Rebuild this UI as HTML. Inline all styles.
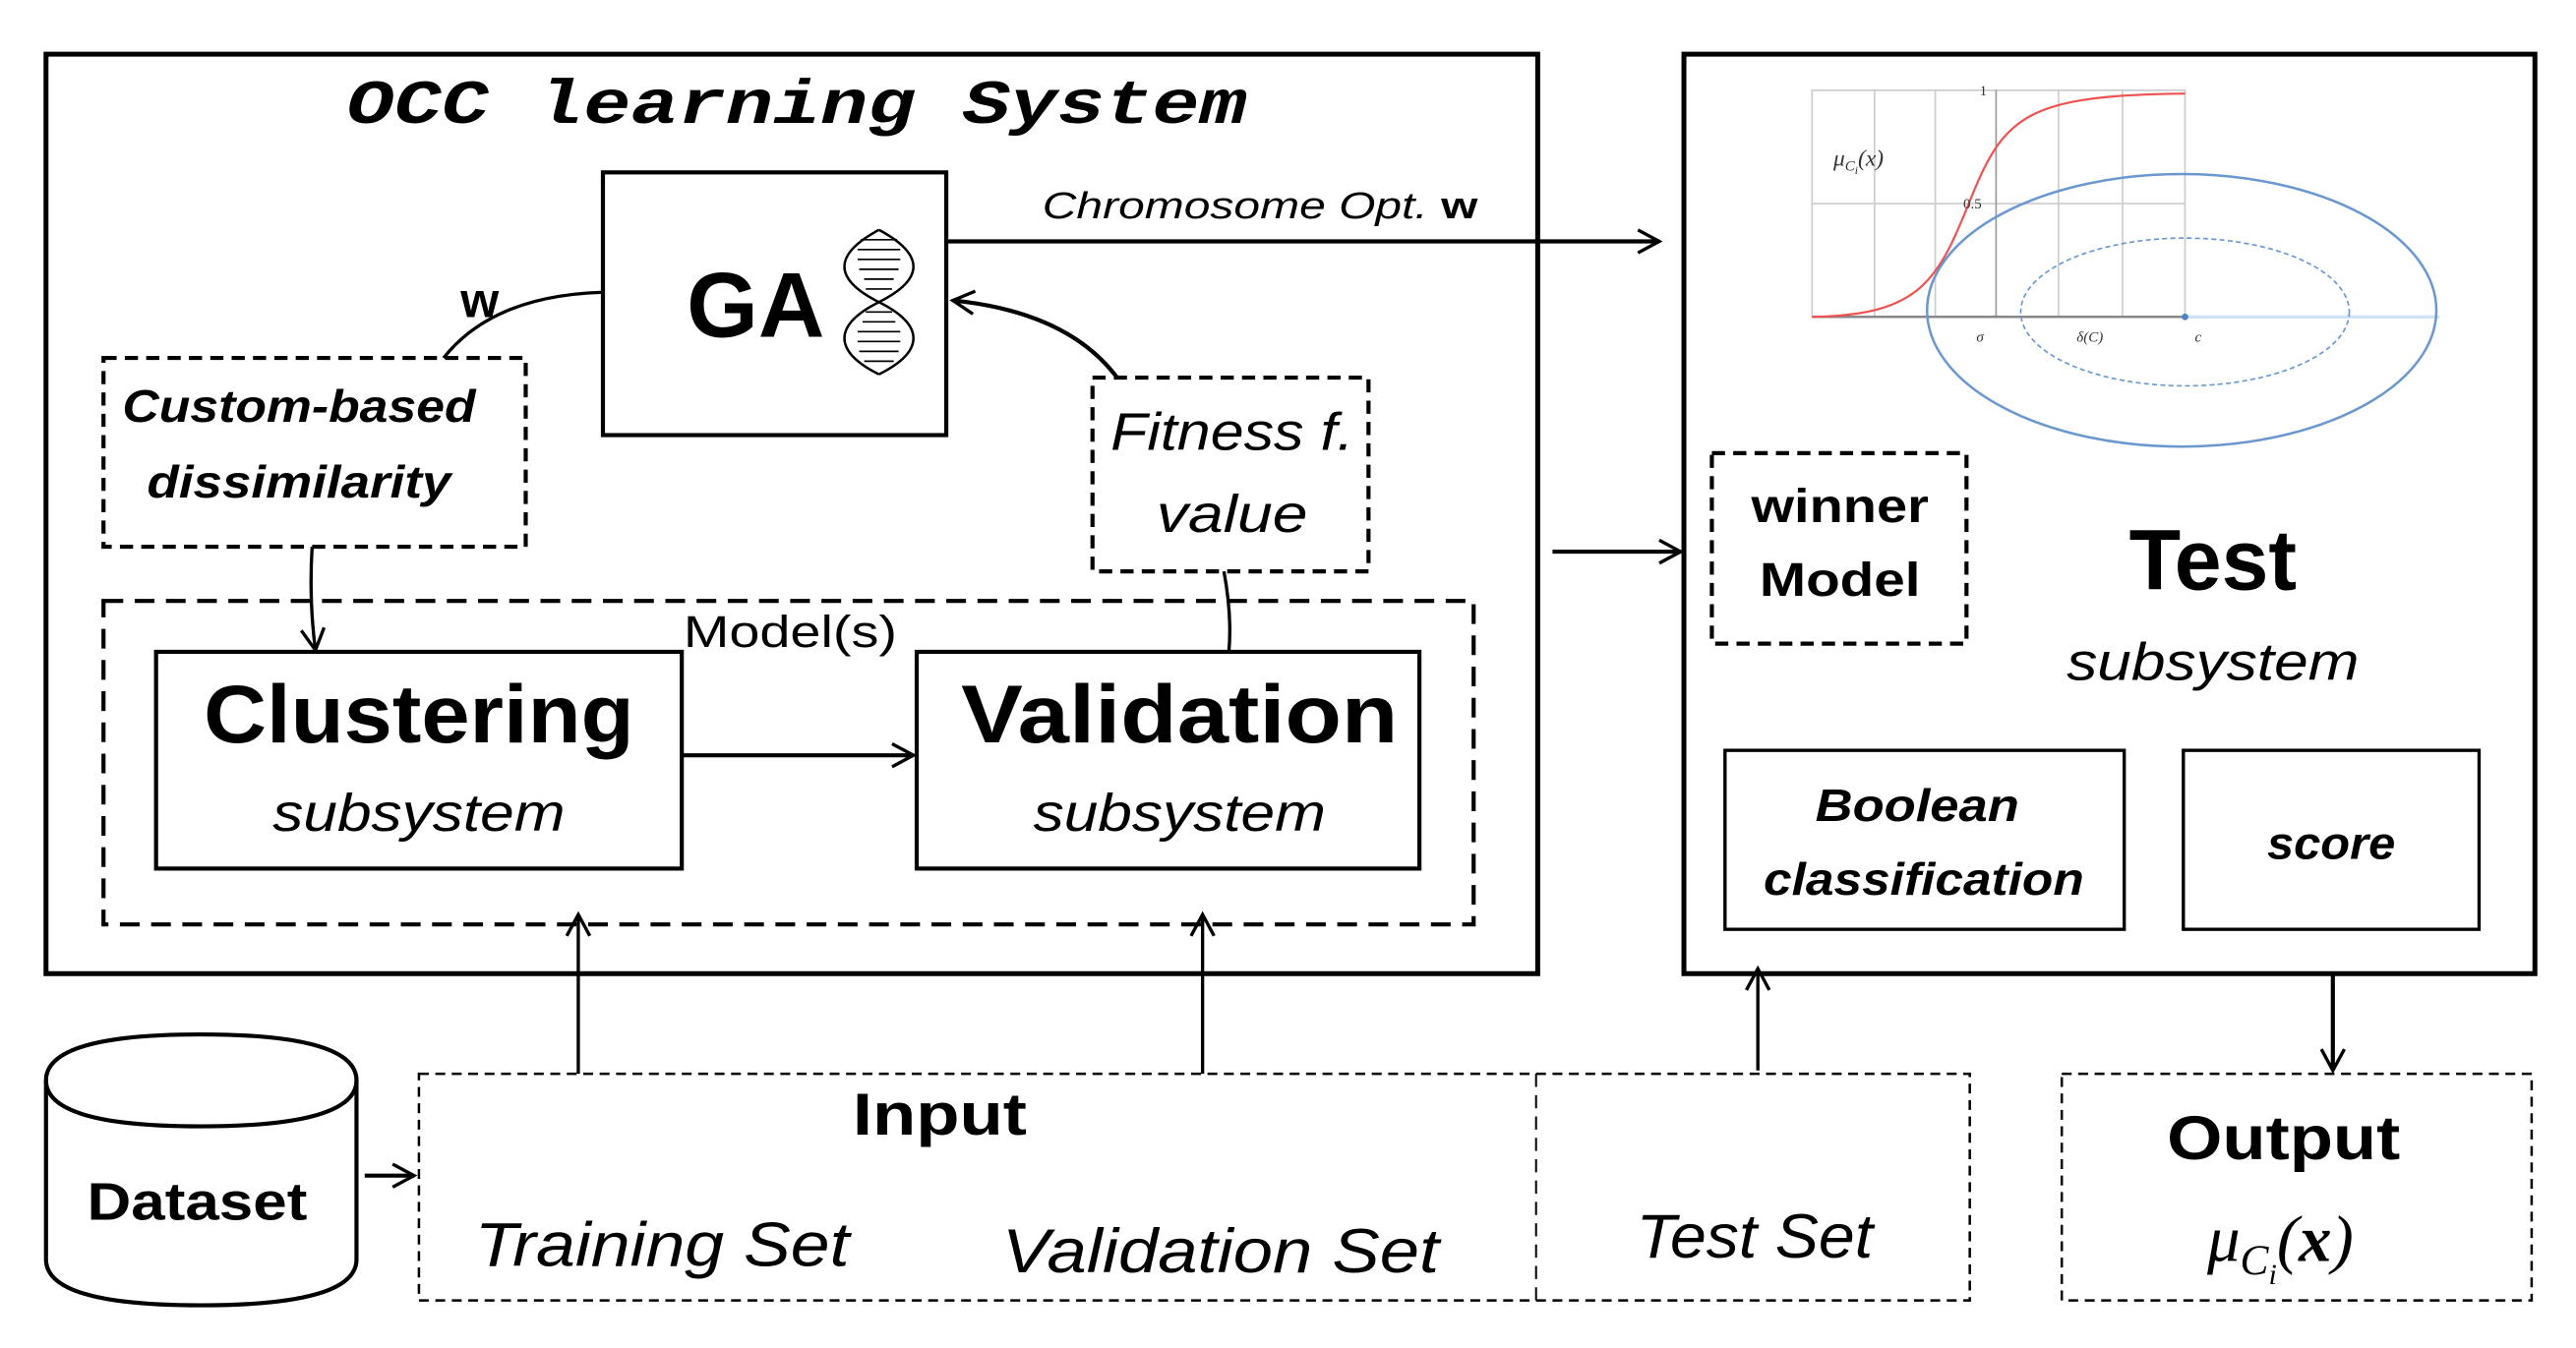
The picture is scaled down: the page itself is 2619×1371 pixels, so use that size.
<!DOCTYPE html>
<html><head><meta charset="utf-8"><style>html,body{margin:0;padding:0;background:#fff}svg{display:block}</style></head>
<body>
<svg width="2619" height="1371" viewBox="0 0 1568 821" preserveAspectRatio="none" xmlns="http://www.w3.org/2000/svg" font-family="Liberation Sans, sans-serif">
<defs>
<marker id="a" markerWidth="20" markerHeight="20" refX="14" refY="8" orient="auto" markerUnits="userSpaceOnUse"><path d="M1,1 L14,8 L1,15" fill="none" stroke="#000" stroke-width="2"/></marker>
</defs>
<g fill="none" stroke="#000">
<rect x="28" y="33" width="908" height="560" stroke-width="3"/>
<rect x="1025" y="33" width="518" height="560" stroke-width="3"/>
<rect x="367" y="105" width="209" height="160" stroke-width="2.5"/>
<rect x="63" y="218" width="257" height="115" stroke-width="2.5" stroke-dasharray="8,5"/>
<rect x="665" y="230" width="168" height="118" stroke-width="2.5" stroke-dasharray="8,5"/>
<rect x="63" y="366" width="834" height="197" stroke-width="2.5" stroke-dasharray="12,7"/>
<rect x="95" y="397" width="320" height="132" stroke-width="2.5"/>
<rect x="558" y="397" width="306" height="132" stroke-width="2.5"/>
<rect x="1042" y="276" width="155" height="116" stroke-width="2.5" stroke-dasharray="8,5"/>
<rect x="1050" y="457" width="243" height="109" stroke-width="2"/>
<rect x="1329" y="457" width="180" height="109" stroke-width="2"/>
<rect x="255" y="654" width="944" height="138" stroke-width="1.5" stroke-dasharray="6,4"/>
<line x1="935" y1="654" x2="935" y2="792" stroke-width="1.2" stroke-dasharray="8,5"/>
<rect x="1255" y="654" width="286" height="138" stroke-width="1.5" stroke-dasharray="6,4"/>
<path d="M28,658 Q28,630 122,630 Q217,630 217,658 L217,767 Q217,795 122,795 Q28,795 28,767 Z" stroke-width="2.5"/>
<path d="M28,658 Q28,686 122,686 Q217,686 217,658" stroke-width="2.5"/>
<g stroke-width="2.5">
<line x1="576" y1="147" x2="1010" y2="147" marker-end="url(#a)"/>
<line x1="945" y1="336" x2="1023" y2="336" marker-end="url(#a)"/>
<line x1="415" y1="460" x2="556" y2="460" marker-end="url(#a)"/>
<line x1="222" y1="716" x2="252" y2="716" marker-end="url(#a)"/>
<line x1="1420" y1="593" x2="1420" y2="652" marker-end="url(#a)"/>
<path d="M680,230 Q650,190 580,183" marker-end="url(#a)"/>
</g>
<g stroke-width="2">
<line x1="352" y1="654" x2="352" y2="557" marker-end="url(#a)"/>
<line x1="732" y1="654" x2="732" y2="557" marker-end="url(#a)"/>
<line x1="1070" y1="652" x2="1070" y2="590" marker-end="url(#a)"/>
<path d="M190,333 Q188,365 192,396" marker-end="url(#a)"/>
<path d="M367,178 Q300,180 270,218"/>
<path d="M745,348 Q750,375 748,397"/>
</g>
<!-- DNA -->
<g stroke-width="1.5">
<path d="M522,140 C550,155 550,170 522,184 C494,198 494,214 522,228" transform="translate(13,0)"/>
<path d="M548,140 C520,155 520,170 548,184 C576,198 576,214 548,228" transform="translate(-13,0)"/>
<path d="M524,146h22M522,152h26M522,158h26M523,164h24M526,170h18M525,196h20M522,202h26M522,208h26M523,214h24M526,220h18M527,176h16M527,190h16" stroke-width="1"/>
</g>
<!-- chart -->
<g stroke="#ccc" stroke-width="1">
<rect x="1103" y="55" width="227" height="138"/>
<path d="M1141,55V193M1178,55V193M1253,55V193M1292,55V193M1103,124H1330"/>
</g>
<line x1="1215" y1="55" x2="1215" y2="193" stroke="#999"/>
<line x1="1103" y1="193" x2="1330" y2="193" stroke="#888" stroke-width="1.5"/>
<line x1="1330" y1="193" x2="1485" y2="193" stroke="#cfe3f7" stroke-width="2"/>
<path d="M1103,193 C1170,192 1180,170 1200,120 C1220,70 1235,58 1330,57" stroke="#f05050" stroke-width="1.3"/>
<ellipse cx="1328" cy="189" rx="155" ry="83" stroke="#6a97cf" stroke-width="1.5"/>
<ellipse cx="1330" cy="190" rx="100" ry="45" stroke="#6a97cf" stroke-width="1" stroke-dasharray="3,2"/>
</g>
<circle cx="1330" cy="193" r="2" fill="#4a80c8"/>
<g fill="#333" font-family="Liberation Serif, serif" font-style="italic" font-size="9">
<text x="1116" y="101" font-size="14">μ<tspan font-size="9" dy="3">C</tspan><tspan font-size="7" dy="2">i</tspan><tspan dy="-5" font-size="14">(x)</tspan></text>
<text x="1203" y="208">σ</text><text x="1264" y="208">δ(C)</text><text x="1336" y="208">c</text>
<text x="1205" y="58" font-style="normal">1</text><text x="1195" y="127" font-style="normal">0.5</text>
</g>
<g fill="#000" text-anchor="middle">
<text x="485" y="75" font-family="Liberation Mono, monospace" font-style="italic" font-weight="bold" font-size="38" textLength="548" lengthAdjust="spacingAndGlyphs">OCC learning System</text>
<text x="460" y="205" font-weight="bold" font-size="56" textLength="84" lengthAdjust="spacingAndGlyphs">GA</text>
<text x="292" y="193" font-weight="bold" font-size="30">w</text>
<text x="767" y="133" font-style="italic" font-size="23" textLength="265" lengthAdjust="spacingAndGlyphs">Chromosome Opt. <tspan font-weight="bold" font-style="normal">w</tspan></text>
<text x="182" y="257" font-weight="bold" font-style="italic" font-size="28" textLength="215" lengthAdjust="spacingAndGlyphs">Custom-based</text>
<text x="182" y="303" font-weight="bold" font-style="italic" font-size="28" textLength="185" lengthAdjust="spacingAndGlyphs">dissimilarity</text>
<text x="750" y="274" font-style="italic" font-size="32" textLength="148" lengthAdjust="spacingAndGlyphs">Fitness f.</text>
<text x="750" y="324" font-style="italic" font-size="32" textLength="92" lengthAdjust="spacingAndGlyphs">value</text>
<text x="481" y="394" font-size="27" textLength="130" lengthAdjust="spacingAndGlyphs">Model(s)</text>
<text x="255" y="452" font-weight="bold" font-size="50" textLength="262" lengthAdjust="spacingAndGlyphs">Clustering</text>
<text x="255" y="506" font-style="italic" font-size="32" textLength="178" lengthAdjust="spacingAndGlyphs">subsystem</text>
<text x="718" y="452" font-weight="bold" font-size="50" textLength="266" lengthAdjust="spacingAndGlyphs">Validation</text>
<text x="718" y="506" font-style="italic" font-size="32" textLength="178" lengthAdjust="spacingAndGlyphs">subsystem</text>
<text x="1120" y="318" font-weight="bold" font-size="29" textLength="108" lengthAdjust="spacingAndGlyphs">winner</text>
<text x="1120" y="363" font-weight="bold" font-size="29" textLength="98" lengthAdjust="spacingAndGlyphs">Model</text>
<text x="1347" y="359" font-weight="bold" font-size="52" textLength="102" lengthAdjust="spacingAndGlyphs">Test</text>
<text x="1347" y="414" font-style="italic" font-size="32" textLength="178" lengthAdjust="spacingAndGlyphs">subsystem</text>
<text x="1167" y="500" font-weight="bold" font-style="italic" font-size="28" textLength="124" lengthAdjust="spacingAndGlyphs">Boolean</text>
<text x="1171" y="545" font-weight="bold" font-style="italic" font-size="28" textLength="195" lengthAdjust="spacingAndGlyphs">classification</text>
<text x="1419" y="523" font-weight="bold" font-style="italic" font-size="28" textLength="78" lengthAdjust="spacingAndGlyphs">score</text>
<text x="120" y="743" font-weight="bold" font-size="32" textLength="134" lengthAdjust="spacingAndGlyphs">Dataset</text>
<text x="572" y="691" font-weight="bold" font-size="36" textLength="106" lengthAdjust="spacingAndGlyphs">Input</text>
<text x="403" y="771" font-style="italic" font-size="38" textLength="228" lengthAdjust="spacingAndGlyphs">Training Set</text>
<text x="743" y="775" font-style="italic" font-size="38" textLength="266" lengthAdjust="spacingAndGlyphs">Validation Set</text>
<text x="1068" y="766" font-style="italic" font-size="38" textLength="144" lengthAdjust="spacingAndGlyphs">Test Set</text>
<text x="1390" y="706" font-weight="bold" font-size="38" textLength="142" lengthAdjust="spacingAndGlyphs">Output</text>
<text x="1388" y="768" font-family="Liberation Serif, serif" font-style="italic" font-size="40">μ<tspan font-size="26" dy="8">C</tspan><tspan font-size="18" dy="6">i</tspan><tspan dy="-14" font-size="40">(</tspan><tspan font-weight="bold">x</tspan><tspan>)</tspan></text>
</g>
</svg>
</body></html>
